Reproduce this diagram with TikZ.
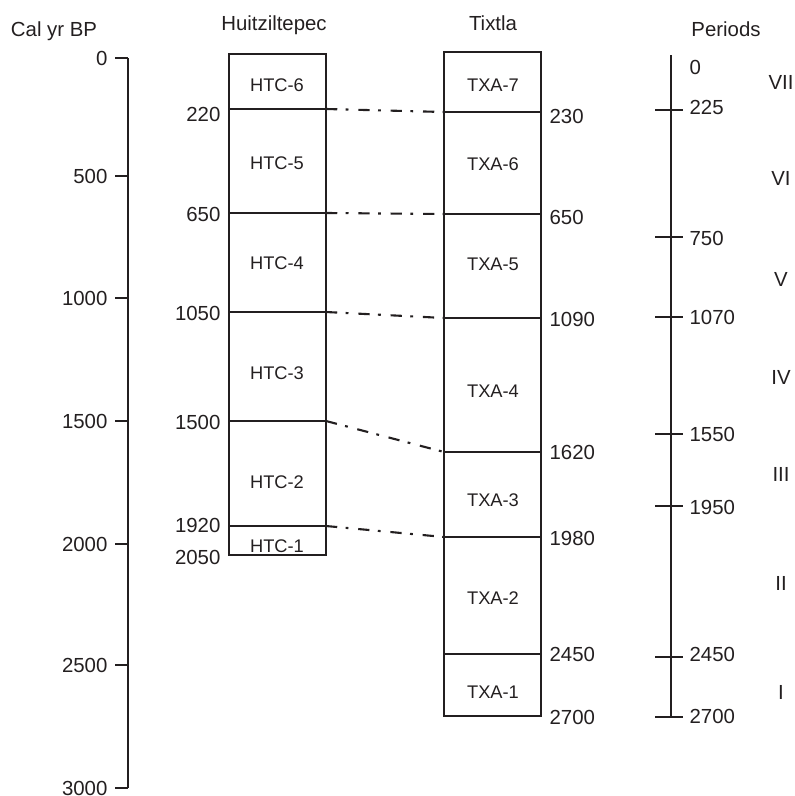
\documentclass[tikz,border=0pt]{standalone}
\usepackage{fontspec}
\setmainfont{Liberation Sans}
\usetikzlibrary{positioning}
\definecolor{cink}{HTML}{231F20}
\tikzset{
  every picture/.style={x=0.025cm, y=-0.025cm, color=cink, line width=0.9pt},
  every node/.style={font=\fontsize{14.5}{17}\selectfont, inner sep=0pt},
  axis/.style={line width=1.1pt},
  unit/.style={font=\fontsize{13}{15}\selectfont},
  link/.style={line width=1.5pt, dash pattern=on 8pt off 6pt on 2pt off 7pt},
  title/.style={anchor=base},
}

\begin{document}
\begin{tikzpicture}
  \useasboundingbox (0,0) rectangle (795,796);
  % age scale
  \node[title] (cal) at (54,36) {Cal yr BP};
  \draw[axis] (128,58) -- (128,788);
  \foreach \v/\y in {0/58, 500/176, 1000/298, 1500/421, 2000/544, 2500/665, 3000/788} {
    \draw[axis] (115,\y) -- (128,\y);
    \node[anchor=east] (age\v) at (108,\y) {\v};
  }
  % Huitziltepec
  \node[title] (htc) at (274,30) {Huitziltepec};
  \draw (229,54) rectangle (326,555);
  \foreach \v/\y/\t [count=\k] in {220/109/114, 650/213/214, 1050/312/313, 1500/421/422, 1920/526/525} {
    \draw (229,\y) coordinate (hl\k) -- (326,\y) coordinate (hr\k);
    \node[anchor=east] (hn\k) at (221,\t) {\v};
  }
  \node[anchor=east] (hn6) at (221,557) {2050};
  \foreach \u/\y in {6/85, 5/163, 4/263, 3/373, 2/482, 1/546}
    \node[unit] (htc\u) at (277,\y) {HTC-\u};
  % Tixtla
  \node[title] (txa) at (493,30) {Tixtla};
  \draw (444,52) rectangle (541,716);
  \foreach \v/\y/\t [count=\k] in {230/112/116, 650/214/217, 1090/318/319, 1620/452/452, 1980/537/538, 2450/654/654} {
    \draw (444,\y) coordinate (tl\k) -- (541,\y) coordinate (tr\k);
    \node[anchor=west] (tn\k) at (549,\t) {\v};
  }
  \node[anchor=west] (tn7) at (549,717) {2700};
  \foreach \u/\y in {7/85, 6/164, 5/264, 4/391, 3/500, 2/598, 1/692}
    \node[unit] (txa\u) at (493,\y) {TXA-\u};
  % correlation
  \foreach \k in {1,...,5}
    \draw[link] (hr\k) -- (tl\k);
  % periods
  \node[title] (per) at (726,36) {Periods};
  \draw[axis] (671,55) -- (671,717);
  \node[anchor=west] (pn0) at (689,67) {0};
  \foreach \v/\y/\t in {225/110/107, 750/237/238, 1070/317/317, 1550/434/434, 1950/506/507, 2450/657/654, 2700/717/716} {
    \draw[axis] (655,\y) -- (683,\y);
    \node[anchor=west] (pn\v) at (689,\t) {\v};
  }
  \foreach \r/\y in {VII/82, VI/178, V/279, IV/377, III/474, II/583, I/692}
    \node (p\r) at (781,\y) {\r};
\end{tikzpicture}
\end{document}
